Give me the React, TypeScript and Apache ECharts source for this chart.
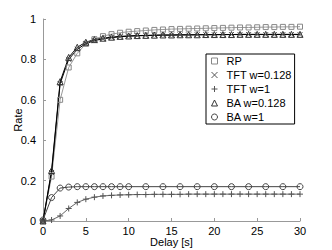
import React, { useEffect, useRef } from "react";
import * as echarts from "echarts";

const delays = [0, 1, 2, 3, 4, 5, 6, 7, 8, 9, 10, 11, 12, 13, 14, 15, 16, 17, 18, 19, 20, 21, 22, 23, 24, 25, 26, 27, 28, 29, 30];
const rp = [0, 0.22, 0.6, 0.76, 0.83, 0.877, 0.9, 0.915, 0.925, 0.932, 0.937, 0.94, 0.943, 0.946, 0.948, 0.95, 0.951, 0.952, 0.953, 0.954, 0.955, 0.956, 0.957, 0.958, 0.958, 0.959, 0.96, 0.96, 0.961, 0.961, 0.962];
const tft128 = [0, 0.24, 0.68, 0.8, 0.85, 0.878, 0.893, 0.902, 0.908, 0.912, 0.915, 0.917, 0.918, 0.919, 0.92, 0.92, 0.921, 0.921, 0.922, 0.922, 0.922, 0.923, 0.923, 0.923, 0.923, 0.923, 0.923, 0.923, 0.923, 0.923, 0.923];
const tft1 = [0, 0.005, 0.025, 0.062, 0.092, 0.108, 0.118, 0.124, 0.127, 0.129, 0.13, 0.131, 0.131, 0.132, 0.132, 0.132, 0.132, 0.133, 0.133, 0.133, 0.133, 0.133, 0.133, 0.133, 0.133, 0.133, 0.133, 0.133, 0.133, 0.133, 0.133];
const ba128 = [0, 0.25, 0.69, 0.81, 0.86, 0.885, 0.898, 0.905, 0.91, 0.914, 0.916, 0.918, 0.919, 0.92, 0.921, 0.921, 0.922, 0.922, 0.922, 0.923, 0.923, 0.923, 0.923, 0.924, 0.924, 0.924, 0.924, 0.924, 0.924, 0.924, 0.924];
const ba1Delays = [0, 1, 2, 3, 4, 5, 6, 7, 8, 9, 10, 12, 14, 16, 18, 20, 22, 24, 26, 28, 30];
const ba1 = [0.005, 0.116, 0.163, 0.168, 0.17, 0.17, 0.17, 0.17, 0.17, 0.17, 0.17, 0.17, 0.17, 0.17, 0.17, 0.17, 0.17, 0.17, 0.17, 0.17, 0.17];

const names = ["RP", "TFT w=0.128", "TFT w=1", "BA w=0.128", "BA w=1"];
const xTicks = { min: 0, max: 30, interval: 5 };
const yTicks = { min: 0, max: 1, interval: 0.2 };

const CROSS = "path://M0,0L10,10M10,0L0,10";
const PLUS = "path://M5,0L5,10M0,5L10,5";
const FONT = "Liberation Sans";

export default function App() {
  const ref = useRef<HTMLDivElement>(null);
  useEffect(() => {
    if (!ref.current) return;
    document.body.style.margin = "0";
    document.body.style.overflow = "hidden";
    document.documentElement.style.overflow = "hidden";
    const chart = echarts.init(ref.current, undefined, { renderer: "svg" });
    const pair = (xs: number[], ys: number[]) => xs.map((x, i) => [x, ys[i]]);
    const mk = (name: string, data: number[][], symbol: string, line: string, mark: string, size: number) => ({
      name,
      type: "line",
      data,
      symbol,
      symbolSize: size,
      showSymbol: true,
      lineStyle: { color: line, width: 1 },
      itemStyle: { color: "transparent", borderColor: mark, borderWidth: 1 },
      emphasis: { disabled: true },
    });
    const leg = (name: string, icon: string, c: string) => ({
      name,
      icon,
      itemStyle: { color: "transparent", borderColor: c, borderWidth: 1 },
    });
    chart.setOption({
      animation: false,
      textStyle: { fontFamily: FONT },
      grid: { left: 43, right: 32, top: 19, bottom: 29, containLabel: false, outerBoundsMode: "none" },
      legend: {
        orient: "vertical",
        left: 206,
        top: 54,
        padding: [1, 3, 1, 5],
        itemWidth: 6,
        itemHeight: 6,
        itemGap: 2,
        borderColor: "#000",
        borderWidth: 1,
        backgroundColor: "#fff",
        textStyle: { fontFamily: FONT, fontSize: 11, color: "#000", lineHeight: 12, padding: [0, 0, 0, 4] },
        data: [
          leg(names[0], "rect", "#888"),
          leg(names[1], CROSS, "#555"),
          leg(names[2], PLUS, "#555"),
          leg(names[3], "triangle", "#333"),
          leg(names[4], "circle", "#444"),
        ],
      },
      xAxis: {
        type: "value",
        ...xTicks,
        name: "Delay [s]",
        nameLocation: "middle",
        nameGap: 15,
        nameMoveOverlap: false,
        nameTextStyle: { fontFamily: FONT, fontSize: 11, color: "#000", lineHeight: 11 },
        axisLine: { show: true, lineStyle: { color: "#999", width: 1 } },
        axisTick: { show: true, inside: true, length: 3, lineStyle: { color: "#999" } },
        axisLabel: { fontFamily: FONT, fontSize: 11, color: "#000", margin: 4, lineHeight: 11 },
        splitLine: { show: false },
      },
      yAxis: {
        type: "value",
        ...yTicks,
        name: "Rate",
        nameLocation: "middle",
        nameGap: 20,
        nameMoveOverlap: false,
        nameTextStyle: { fontFamily: FONT, fontSize: 11, color: "#000" },
        axisLine: { show: true, lineStyle: { color: "#999", width: 1 } },
        axisTick: { show: true, inside: true, length: 3, lineStyle: { color: "#999" } },
        axisLabel: { fontFamily: FONT, fontSize: 11, color: "#000", margin: 7 },
        splitLine: { show: false },
      },
      series: [
        mk(names[0], pair(delays, rp), "rect", "#999", "#888", 5),
        mk(names[1], pair(delays, tft128), CROSS, "#000", "#555", 5),
        mk(names[2], pair(delays, tft1), PLUS, "#666", "#555", 6),
        mk(names[3], pair(delays, ba128), "triangle", "#000", "#333", 6),
        mk(names[4], pair(ba1Delays, ba1), "circle", "#444", "#444", 6),
      ],
    });
    return () => chart.dispose();
  }, []);
  return <div ref={ref} style={{ width: 332, height: 250 }} />;
}
